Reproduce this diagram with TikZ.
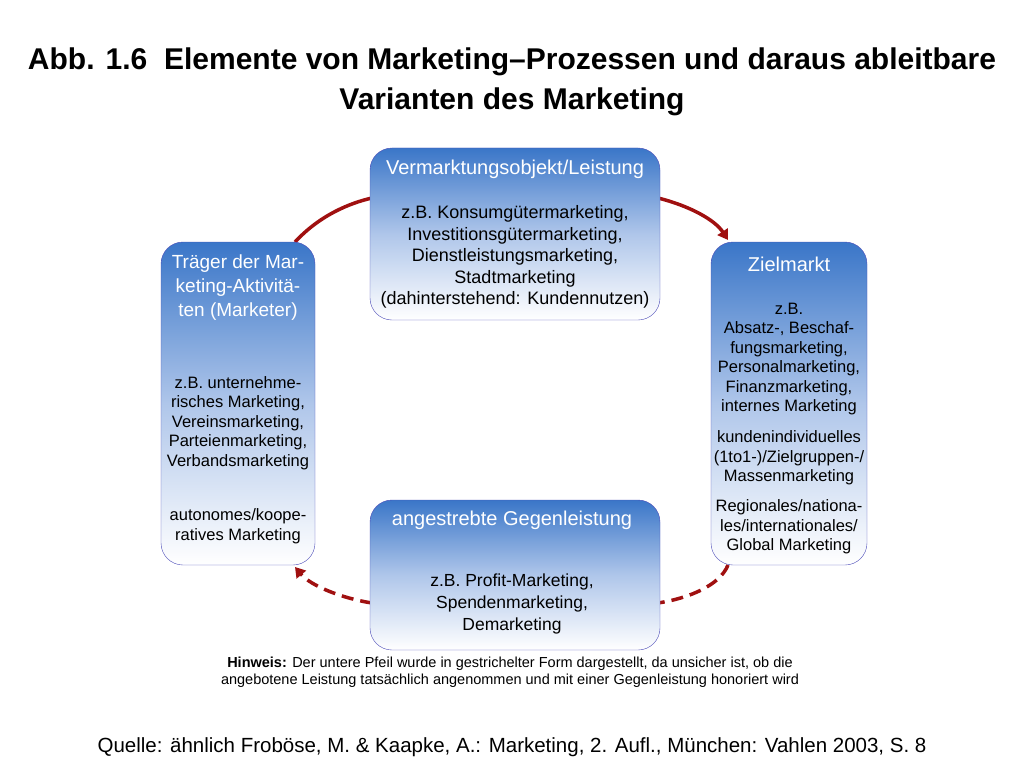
\documentclass[tikz,border=0pt]{standalone}
\usepackage{fontspec}
\setmainfont{Liberation Sans}
\usetikzlibrary{arrows.meta}
\begin{document}
\begin{tikzpicture}[x=1pt,y=-1pt,
  box/.style={draw=blue!60!black!70,rounded corners=22pt,top color={rgb,255:red,58;green,118;blue,200},bottom color=white,middle color={rgb,255:red,175;green,198;blue,234}},
  hd/.style={text=white,font=\fontsize{20}{23}\selectfont,align=center},
  bd/.style={font=\fontsize{18}{21.5}\selectfont,align=center},
  sb/.style={font=\fontsize{16.5}{19.5}\selectfont,align=center},
  red/.style={draw={rgb,255:red,160;green,16;blue,16},line width=3.5pt},
  arr/.style={red,-{Triangle[length=10pt,width=12pt]}}]
\useasboundingbox (0,0) rectangle (1024,770);
\node[font=\bfseries\fontsize{30}{40}\selectfont,align=center] (title) at (512,82) {Abb. 1.6\ \ Elemente von Marketing--Prozessen und daraus ableitbare\\Varianten des Marketing};
% arrows behind
\draw[red] (295,242) .. controls (320,215) and (350,203) .. (372,198);
\draw[arr] (658,198) .. controls (690,206) and (715,220) .. (728,240);
\draw[red,dash pattern=on 12pt off 7pt] (728,565) .. controls (720,585) and (690,598) .. (658,603);
\draw[arr,dash pattern=on 12pt off 7pt] (372,603) .. controls (340,598) and (310,585) .. (295,567);
% boxes
\path[box] (370,148) rectangle (660,320);
\path[box] (161,242) rectangle (315,565);
\path[box] (711,242) rectangle (867,565);
\path[box] (370,500) rectangle (660,650);
\node[hd] (th) at (515,169) {Vermarktungsobjekt/Leistung};
\node[bd] (tb) at (515,257) {z.B. Konsumgütermarketing,\\Investitionsgütermarketing,\\Dienstleistungsmarketing,\\Stadtmarketing\\(dahinterstehend: Kundennutzen)};
\node[hd,font=\fontsize{19}{24}\selectfont] (lh) at (238,288) {Träger der Mar-\\keting-Aktivitä-\\ten (Marketer)};
\node[sb] (lb) at (238,423) {z.B. unternehme-\\risches Marketing,\\Vereinsmarketing,\\Parteienmarketing,\\Verbandsmarketing};
\node[sb] (lb2) at (238,526) {autonomes/koope-\\ratives Marketing};
\node[hd] (rh) at (789,264) {Zielmarkt};
\node[sb] (rb) at (789,359) {z.B.\\Absatz-, Beschaf-\\fungsmarketing,\\Personalmarketing,\\Finanzmarketing,\\internes Marketing};
\node[sb] (rb2) at (789,458) {kundenindividuelles\\(1to1-)/Zielgruppen-/\\Massenmarketing};
\node[sb] (rb3) at (789,527) {Regionales/nationa-\\les/internationales/\\Global Marketing};
\node[hd] (bh) at (512,520) {angestrebte Gegenleistung};
\node[bd,font=\fontsize{17.5}{22}\selectfont] (bb) at (512,604) {z.B. Profit-Marketing,\\Spendenmarketing,\\Demarketing};
\node[font=\fontsize{14.5}{17}\selectfont,align=center] (hw) at (510,672) {\textbf{Hinweis:} Der untere Pfeil wurde in gestrichelter Form dargestellt, da unsicher ist, ob die\\angebotene Leistung tatsächlich angenommen und mit einer Gegenleistung honoriert wird};
\node[font=\fontsize{20.5}{22}\selectfont] (q) at (512,747) {Quelle: ähnlich Froböse, M. \& Kaapke, A.: Marketing, 2. Aufl., München: Vahlen 2003, S. 8};
\end{tikzpicture}
\end{document}
